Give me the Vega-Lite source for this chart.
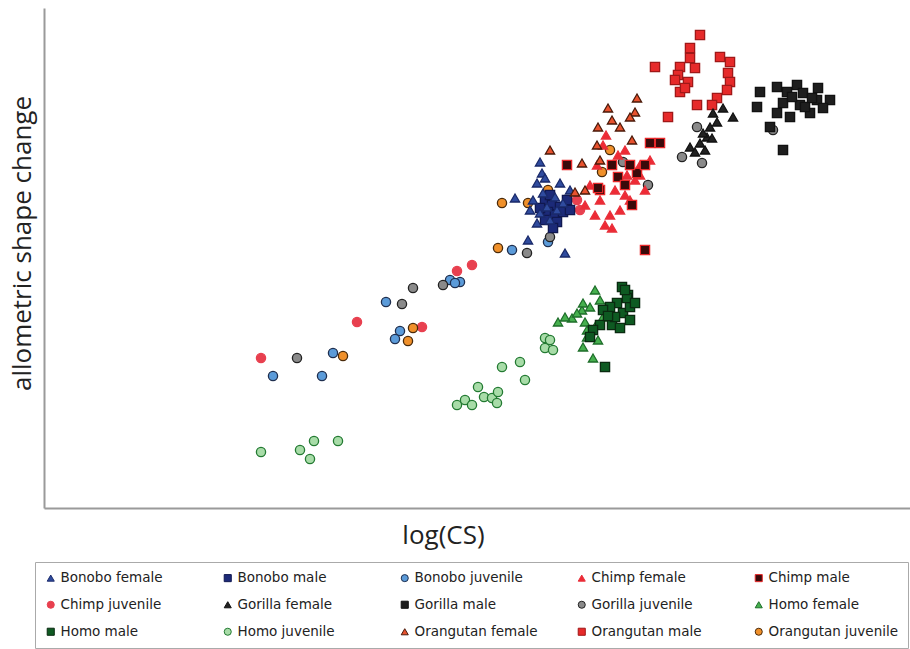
{
  "$schema": "https://vega.github.io/schema/vega-lite/v6.json",
  "width": 866,
  "height": 500,
  "autosize": {"type": "none"},
  "padding": {"left": 44, "top": 8, "right": 0, "bottom": 141},
  "background": "white",
  "config": {
    "view": {"stroke": null},
    "axis": {"domainColor": "#9a9a9a", "domainWidth": 2, "labels": false, "ticks": false, "grid": false, "titleFont": "Open Sans", "titleFontWeight": "normal", "titleColor": "#222", "titleFontSize": 26}
  },
  "data": {"values": [
    {"g":"Homo juvenile","x":21.7,"y":5.6},{"g":"Homo juvenile","x":25.6,"y":5.8},{"g":"Homo juvenile","x":26.6,"y":4.9},{"g":"Homo juvenile","x":27.0,"y":6.7},{"g":"Homo juvenile","x":29.4,"y":6.7},{"g":"Homo juvenile","x":41.3,"y":10.3},{"g":"Homo juvenile","x":42.1,"y":10.8},{"g":"Homo juvenile","x":42.8,"y":10.3},{"g":"Homo juvenile","x":43.4,"y":12.1},{"g":"Homo juvenile","x":44.0,"y":11.1},{"g":"Homo juvenile","x":44.8,"y":11.0},{"g":"Homo juvenile","x":45.3,"y":10.5},{"g":"Homo juvenile","x":45.4,"y":11.6},{"g":"Homo juvenile","x":45.8,"y":14.1},{"g":"Homo juvenile","x":47.6,"y":14.6},{"g":"Homo juvenile","x":48.1,"y":12.8},{"g":"Homo juvenile","x":50.1,"y":17.0},{"g":"Homo juvenile","x":50.1,"y":16.0},{"g":"Homo juvenile","x":50.9,"y":15.8},{"g":"Homo juvenile","x":50.6,"y":16.8},
    {"g":"Homo female","x":55.1,"y":21.8},{"g":"Homo female","x":51.4,"y":18.6},{"g":"Homo female","x":52.8,"y":19.0},{"g":"Homo female","x":53.8,"y":19.8},{"g":"Homo female","x":53.9,"y":20.5},{"g":"Homo female","x":54.3,"y":17.8},{"g":"Homo female","x":53.9,"y":16.1},{"g":"Homo female","x":54.9,"y":15.0},{"g":"Homo female","x":54.3,"y":17.1},{"g":"Homo female","x":55.4,"y":16.8},{"g":"Homo female","x":54.6,"y":20.1},{"g":"Homo female","x":53.3,"y":19.5},{"g":"Homo female","x":55.6,"y":20.8},{"g":"Homo female","x":55.9,"y":19.1},{"g":"Homo female","x":52.1,"y":19.1},{"g":"Homo female","x":54.1,"y":18.6},{"g":"Homo female","x":55.2,"y":18.3},
    {"g":"Homo male","x":57.8,"y":22.1},{"g":"Homo male","x":58.4,"y":21.3},{"g":"Homo male","x":57.3,"y":20.5},{"g":"Homo male","x":56.6,"y":20.1},{"g":"Homo male","x":55.9,"y":19.8},{"g":"Homo male","x":57.9,"y":19.5},{"g":"Homo male","x":58.6,"y":18.8},{"g":"Homo male","x":56.8,"y":18.3},{"g":"Homo male","x":55.6,"y":18.3},{"g":"Homo male","x":57.6,"y":18.0},{"g":"Homo male","x":54.9,"y":17.8},{"g":"Homo male","x":54.6,"y":17.1},{"g":"Homo male","x":56.1,"y":14.1},{"g":"Homo male","x":57.1,"y":19.1},{"g":"Homo male","x":58.6,"y":20.1},{"g":"Homo male","x":58.3,"y":21.0},{"g":"Homo male","x":59.1,"y":20.5},{"g":"Homo male","x":58.1,"y":21.8},{"g":"Homo male","x":56.4,"y":19.2},
    {"g":"Bonobo juvenile","x":22.9,"y":13.2},{"g":"Bonobo juvenile","x":27.8,"y":13.2},{"g":"Bonobo juvenile","x":28.9,"y":15.5},{"g":"Bonobo juvenile","x":34.2,"y":20.6},{"g":"Bonobo juvenile","x":35.6,"y":17.7},{"g":"Bonobo juvenile","x":35.1,"y":16.9},{"g":"Bonobo juvenile","x":40.6,"y":22.8},{"g":"Bonobo juvenile","x":41.6,"y":22.6},{"g":"Bonobo juvenile","x":46.8,"y":25.8},{"g":"Bonobo juvenile","x":50.4,"y":26.6},{"g":"Bonobo juvenile","x":41.1,"y":22.5},
    {"g":"Gorilla juvenile","x":25.3,"y":15.0},{"g":"Gorilla juvenile","x":35.8,"y":20.4},{"g":"Gorilla juvenile","x":36.9,"y":22.0},{"g":"Gorilla juvenile","x":39.9,"y":22.3},{"g":"Gorilla juvenile","x":48.3,"y":25.5},{"g":"Gorilla juvenile","x":50.6,"y":27.1},{"g":"Gorilla juvenile","x":57.9,"y":34.6},{"g":"Gorilla juvenile","x":60.4,"y":32.3},{"g":"Gorilla juvenile","x":63.8,"y":35.1},{"g":"Gorilla juvenile","x":65.3,"y":38.1},{"g":"Gorilla juvenile","x":65.8,"y":34.5},{"g":"Gorilla juvenile","x":72.9,"y":37.8},
    {"g":"Chimp juvenile","x":21.7,"y":15.0},{"g":"Chimp juvenile","x":31.3,"y":18.6},{"g":"Chimp juvenile","x":37.8,"y":18.1},{"g":"Chimp juvenile","x":41.3,"y":23.7},{"g":"Chimp juvenile","x":42.8,"y":24.3},{"g":"Chimp juvenile","x":53.6,"y":29.8},{"g":"Chimp juvenile","x":53.3,"y":30.8},
    {"g":"Orangutan juvenile","x":29.9,"y":15.2},{"g":"Orangutan juvenile","x":36.9,"y":18.0},{"g":"Orangutan juvenile","x":36.4,"y":16.7},{"g":"Orangutan juvenile","x":45.8,"y":30.5},{"g":"Orangutan juvenile","x":48.4,"y":30.5},{"g":"Orangutan juvenile","x":50.4,"y":31.8},{"g":"Orangutan juvenile","x":45.4,"y":26.0},{"g":"Orangutan juvenile","x":56.6,"y":35.8},{"g":"Orangutan juvenile","x":55.8,"y":33.6},
    {"g":"Chimp female","x":55.6,"y":30.8},{"g":"Chimp female","x":56.6,"y":29.3},{"g":"Chimp female","x":57.6,"y":29.8},{"g":"Chimp female","x":57.1,"y":31.8},{"g":"Chimp female","x":58.3,"y":33.3},{"g":"Chimp female","x":59.6,"y":34.3},{"g":"Chimp female","x":59.1,"y":32.8},{"g":"Chimp female","x":56.1,"y":28.3},{"g":"Chimp female","x":56.8,"y":28.0},{"g":"Chimp female","x":58.1,"y":31.3},{"g":"Chimp female","x":60.1,"y":31.8},{"g":"Chimp female","x":54.6,"y":32.3},{"g":"Chimp female","x":55.3,"y":34.3},{"g":"Chimp female","x":55.9,"y":36.3},{"g":"Chimp female","x":58.1,"y":35.8},{"g":"Chimp female","x":56.2,"y":37.3},{"g":"Chimp female","x":57.4,"y":35.3},{"g":"Chimp female","x":60.6,"y":34.8},{"g":"Chimp female","x":54.1,"y":30.3},{"g":"Chimp female","x":55.1,"y":29.3},{"g":"Chimp female","x":58.6,"y":30.8},{"g":"Chimp female","x":59.6,"y":33.3},
    {"g":"Chimp male","x":52.3,"y":34.3},{"g":"Chimp male","x":60.6,"y":36.5},{"g":"Chimp male","x":61.6,"y":36.5},{"g":"Chimp male","x":55.6,"y":31.8},{"g":"Chimp male","x":57.4,"y":33.1},{"g":"Chimp male","x":59.3,"y":33.5},{"g":"Chimp male","x":58.8,"y":30.3},{"g":"Chimp male","x":60.1,"y":34.3},{"g":"Chimp male","x":55.4,"y":32.0},{"g":"Chimp male","x":60.1,"y":25.8},{"g":"Chimp male","x":58.1,"y":32.3},{"g":"Chimp male","x":56.8,"y":34.3},{"g":"Chimp male","x":58.6,"y":34.3},
    {"g":"Bonobo male","x":50.1,"y":30.8},{"g":"Bonobo male","x":50.8,"y":30.3},{"g":"Bonobo male","x":51.6,"y":30.1},{"g":"Bonobo male","x":50.4,"y":29.6},{"g":"Bonobo male","x":51.1,"y":29.3},{"g":"Bonobo male","x":51.9,"y":29.6},{"g":"Bonobo male","x":49.6,"y":30.0},{"g":"Bonobo male","x":50.1,"y":28.8},{"g":"Bonobo male","x":51.3,"y":28.6},{"g":"Bonobo male","x":52.3,"y":30.8},{"g":"Bonobo male","x":52.6,"y":29.8},{"g":"Bonobo male","x":50.6,"y":31.3},{"g":"Bonobo male","x":50.9,"y":28.0},
    {"g":"Bonobo female","x":49.6,"y":34.6},{"g":"Bonobo female","x":49.8,"y":33.5},{"g":"Bonobo female","x":49.3,"y":32.5},{"g":"Bonobo female","x":51.6,"y":32.5},{"g":"Bonobo female","x":47.1,"y":31.0},{"g":"Bonobo female","x":52.6,"y":31.8},{"g":"Bonobo female","x":48.9,"y":30.8},{"g":"Bonobo female","x":50.3,"y":30.1},{"g":"Bonobo female","x":49.6,"y":29.5},{"g":"Bonobo female","x":51.3,"y":29.8},{"g":"Bonobo female","x":51.9,"y":30.5},{"g":"Bonobo female","x":50.6,"y":28.8},{"g":"Bonobo female","x":49.3,"y":28.5},{"g":"Bonobo female","x":48.4,"y":26.8},{"g":"Bonobo female","x":52.1,"y":25.5},{"g":"Bonobo female","x":51.1,"y":31.1},{"g":"Bonobo female","x":49.9,"y":31.5},{"g":"Bonobo female","x":50.1,"y":33.0},{"g":"Bonobo female","x":48.6,"y":29.8},
    {"g":"Orangutan female","x":59.3,"y":41.0},{"g":"Orangutan female","x":59.1,"y":39.6},{"g":"Orangutan female","x":56.4,"y":40.0},{"g":"Orangutan female","x":55.4,"y":38.1},{"g":"Orangutan female","x":57.6,"y":38.1},{"g":"Orangutan female","x":58.8,"y":36.8},{"g":"Orangutan female","x":53.8,"y":34.5},{"g":"Orangutan female","x":55.6,"y":34.8},{"g":"Orangutan female","x":50.6,"y":35.8},{"g":"Orangutan female","x":54.1,"y":31.8},{"g":"Orangutan female","x":58.6,"y":39.1},{"g":"Orangutan female","x":56.8,"y":38.8},{"g":"Orangutan female","x":55.3,"y":36.3},{"g":"Orangutan female","x":53.1,"y":31.6},
    {"g":"Orangutan male","x":65.6,"y":47.3},{"g":"Orangutan male","x":64.6,"y":46.0},{"g":"Orangutan male","x":64.6,"y":45.0},{"g":"Orangutan male","x":63.6,"y":44.1},{"g":"Orangutan male","x":65.1,"y":44.0},{"g":"Orangutan male","x":61.1,"y":44.1},{"g":"Orangutan male","x":63.4,"y":43.3},{"g":"Orangutan male","x":64.4,"y":42.6},{"g":"Orangutan male","x":63.6,"y":41.6},{"g":"Orangutan male","x":67.6,"y":45.1},{"g":"Orangutan male","x":68.6,"y":44.6},{"g":"Orangutan male","x":68.4,"y":43.5},{"g":"Orangutan male","x":68.6,"y":42.6},{"g":"Orangutan male","x":68.3,"y":41.8},{"g":"Orangutan male","x":67.3,"y":41.0},{"g":"Orangutan male","x":66.8,"y":40.3},{"g":"Orangutan male","x":65.3,"y":40.3},{"g":"Orangutan male","x":62.4,"y":39.1},{"g":"Orangutan male","x":64.1,"y":42.0},{"g":"Orangutan male","x":63.1,"y":42.8},
    {"g":"Gorilla female","x":67.9,"y":40.0},{"g":"Gorilla female","x":68.9,"y":39.1},{"g":"Gorilla female","x":67.3,"y":38.6},{"g":"Gorilla female","x":66.6,"y":38.1},{"g":"Gorilla female","x":66.3,"y":37.1},{"g":"Gorilla female","x":65.6,"y":36.5},{"g":"Gorilla female","x":64.6,"y":36.1},{"g":"Gorilla female","x":65.9,"y":37.5},{"g":"Gorilla female","x":66.9,"y":39.5},{"g":"Gorilla female","x":66.8,"y":37.0},{"g":"Gorilla female","x":65.1,"y":35.6},{"g":"Gorilla female","x":66.1,"y":35.8},
    {"g":"Gorilla male","x":71.6,"y":41.6},{"g":"Gorilla male","x":71.3,"y":40.1},{"g":"Gorilla male","x":73.3,"y":42.1},{"g":"Gorilla male","x":74.3,"y":41.6},{"g":"Gorilla male","x":75.3,"y":42.3},{"g":"Gorilla male","x":75.9,"y":41.5},{"g":"Gorilla male","x":77.4,"y":42.0},{"g":"Gorilla male","x":78.6,"y":40.8},{"g":"Gorilla male","x":77.3,"y":40.8},{"g":"Gorilla male","x":75.6,"y":40.3},{"g":"Gorilla male","x":73.9,"y":40.5},{"g":"Gorilla male","x":73.3,"y":39.5},{"g":"Gorilla male","x":76.6,"y":39.5},{"g":"Gorilla male","x":72.6,"y":38.1},{"g":"Gorilla male","x":73.9,"y":35.8},{"g":"Gorilla male","x":74.6,"y":39.1},{"g":"Gorilla male","x":77.9,"y":40.0},{"g":"Gorilla male","x":76.1,"y":40.1},{"g":"Gorilla male","x":74.8,"y":41.1},{"g":"Gorilla male","x":76.8,"y":41.0}
  ]},
  "mark": {"type": "point", "filled": true, "size": 85, "strokeWidth": 1.3, "opacity": 1},
  "encoding": {
    "x": {"field": "x", "type": "quantitative", "scale": {"domain": [0, 86.6], "nice": false, "zero": false}, "axis": {"title": "log(CS)", "titlePadding": 14, "titleX": 399}},
    "y": {"field": "y", "type": "quantitative", "scale": {"domain": [0, 50], "nice": false, "zero": false}, "axis": {"title": "allometric shape change", "titlePadding": 9, "titleY": 235}},
    "fill": {"field": "g", "type": "nominal", "scale": {
      "domain": ["Bonobo female","Bonobo male","Bonobo juvenile","Chimp female","Chimp male","Chimp juvenile","Gorilla female","Gorilla male","Gorilla juvenile","Homo female","Homo male","Homo juvenile","Orangutan female","Orangutan male","Orangutan juvenile"],
      "range": ["#2f4b9e","#1c2a78","#5b9bd9","#ee2a35","#3a0a0a","#e8404f","#222222","#1e1e1e","#8a8a8a","#46b04e","#0e5a22","#a8dca8","#e8522e","#e62a2a","#f0902a"]},
      "legend": {"title": null, "orient": "none", "direction": "horizontal", "legendX": -9, "legendY": 554, "columns": 5, "gridAlign": "all", "columnPadding": 30, "rowPadding": 12, "labelFont": "DejaVu Sans", "labelFontSize": 13.5, "labelColor": "#222", "labelLimit": 250, "symbolSize": 50, "symbolStrokeWidth": 1, "strokeColor": "#aaaaaa", "padding": 9, "fillColor": "white", "labelOffset": 3}},
    "stroke": {"field": "g", "type": "nominal", "scale": {
      "domain": ["Bonobo female","Bonobo male","Bonobo juvenile","Chimp female","Chimp male","Chimp juvenile","Gorilla female","Gorilla male","Gorilla juvenile","Homo female","Homo male","Homo juvenile","Orangutan female","Orangutan male","Orangutan juvenile"],
      "range": ["#1a2a6a","#101850","#1f2f4f","#e8303a","#e8282a","#e8404f","#111111","#111111","#222222","#1e6e2a","#0a2a10","#237a32","#4a1a0a","#a01818","#4a2a0a"]}},
    "shape": {"field": "g", "type": "nominal", "scale": {
      "domain": ["Bonobo female","Bonobo male","Bonobo juvenile","Chimp female","Chimp male","Chimp juvenile","Gorilla female","Gorilla male","Gorilla juvenile","Homo female","Homo male","Homo juvenile","Orangutan female","Orangutan male","Orangutan juvenile"],
      "range": ["triangle-up","square","circle","triangle-up","square","circle","triangle-up","square","circle","triangle-up","square","circle","triangle-up","square","circle"]}}
  }
}
